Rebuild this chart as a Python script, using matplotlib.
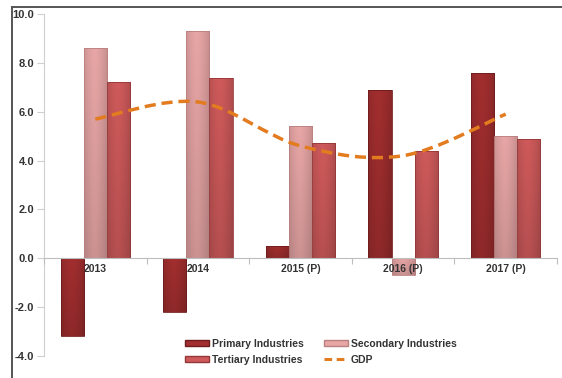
import numpy as np
import matplotlib
matplotlib.use("Agg")
import matplotlib.pyplot as plt
from matplotlib.colors import to_rgb
from matplotlib.path import Path
from matplotlib.patches import PathPatch, Patch
from matplotlib.lines import Line2D

plt.rcParams['font.family'] = ['Liberation Sans', 'DejaVu Sans']

years = ['2013', '2014', '2015 (P)', '2016 (P)', '2017 (P)']
primary = [-3.2, -2.2, 0.5, 6.9, 7.6]
secondary = [8.6, 9.3, 5.4, -0.7, 5.0]
tertiary = [7.2, 7.4, 4.7, 4.4, 4.9]
gdp = [5.7, 6.4, 4.6, 4.2, 5.9]

c_pri = '#a22e2f'
c_sec = '#e8a6a6'
c_ter = '#cf5a5b'
c_gdp = '#e37b1f'
txt = '#333333'

fig = plt.figure(figsize=(5.62, 3.78), dpi=100)
ax = fig.add_axes([44/562, 1-356/378, 513/562, 342/378])


def shade(bars, color):
    # cylinder-ish shading: a little darker at the sides and towards the bottom
    base = np.array(to_rgb(color))
    u = np.linspace(0, 1, 40)
    side = 1 - 0.14 * np.abs(u - 0.45) ** 1.5 * 2.6
    for b in bars:
        x0, y0 = b.get_x(), b.get_y()
        bw, bh = b.get_width(), b.get_height()
        v = np.linspace(1, 0, 60)[:, None]
        f = side[None, :] * (0.88 + 0.12 * v)
        img = np.clip(base[None, None, :] * f[:, :, None], 0, 1)
        lo, hi = min(y0, y0 + bh), max(y0, y0 + bh)
        im = ax.imshow(img, extent=(x0, x0 + bw, lo, hi), aspect='auto',
                       origin='upper', zorder=2, interpolation='bilinear')
        im.set_clip_path(b)
        b.set_facecolor('none')


x = np.arange(len(years))
w = 0.225
b1 = ax.bar(x - w, primary, w, color=c_pri, edgecolor='#6e1c1c', linewidth=0.6, zorder=2.1)
b2 = ax.bar(x, secondary, w, color=c_sec, edgecolor='#b98080', linewidth=0.6, zorder=2.1)
b3 = ax.bar(x + w, tertiary, w, color=c_ter, edgecolor='#943738', linewidth=0.6, zorder=2.1)
shade(b1, c_pri)
shade(b2, c_sec)
shade(b3, c_ter)

# smoothed GDP line: catmull-rom through the points as cubic beziers
pts = np.column_stack([x, gdp]).astype(float)
verts = [pts[0]]
codes = [Path.MOVETO]
for i in range(len(pts) - 1):
    p0 = pts[max(i - 1, 0)]
    p1 = pts[i]
    p2 = pts[i + 1]
    p3 = pts[min(i + 2, len(pts) - 1)]
    verts += [p1 + (p2 - p0) / 6, p2 - (p3 - p1) / 6, p2]
    codes += [Path.CURVE4] * 3
ax.add_patch(PathPatch(Path(verts, codes), fill=False, edgecolor=c_gdp,
                       linewidth=2.5, linestyle=(0, (3.2, 1.7)), zorder=4,
                       capstyle='butt'))

ax.set_xlim(-0.5, 4.5)
ax.set_ylim(-4, 10)
ax.set_yticks(np.arange(-4, 10.1, 2))
ax.set_yticklabels([f'{v:.1f}' for v in np.arange(-4, 10.1, 2)])
ax.set_axisbelow(False)

# category axis sits on zero
ax.spines['bottom'].set_position(('data', 0))
ax.spines['bottom'].set_color('#bdbdbd')
ax.spines['left'].set_color('#cfcfcf')
ax.spines['top'].set_visible(False)
ax.spines['right'].set_visible(False)
ax.set_xticks(np.arange(-0.5, 4.6, 1))
ax.set_xticklabels([])
ax.set_xticks(x, minor=True)
ax.set_xticklabels(years, minor=True)
ax.tick_params(axis='x', which='major', length=4, color='#bdbdbd', direction='out')
ax.tick_params(axis='x', which='minor', length=0, pad=4, labelsize=7.5, labelcolor=txt)
ax.tick_params(axis='y', length=5, color='#cfcfcf', labelsize=8, labelcolor=txt, pad=2)
for lab in ax.get_xticklabels(minor=True) + ax.get_yticklabels():
    lab.set_fontweight('bold')
ax.xaxis.set_zorder(5)

handles = [Patch(facecolor=c_pri, edgecolor='#6e1c1c'),
           Patch(facecolor=c_ter, edgecolor='#943738'),
           Patch(facecolor=c_sec, edgecolor='#b98080'),
           Line2D([], [], color=c_gdp, linewidth=2.2, linestyle=(0, (2.5, 1.5)))]
labels = ['Primary Industries', 'Tertiary Industries', 'Secondary Industries', 'GDP']
leg = fig.legend(handles, labels, ncol=2, loc='upper left',
                 bbox_to_anchor=(185/562, 1-339/378), frameon=False,
                 prop={'size': 7.5, 'weight': 'bold'}, handlelength=2.3,
                 handleheight=0.5, handletextpad=0.3, columnspacing=1.9,
                 labelspacing=0.55, borderpad=0, borderaxespad=0)
for t in leg.get_texts():
    t.set_color(txt)

# outer frame, left and top edges
fig.add_artist(Line2D([12/562, 12/562], [0, 1-7/378], color='#555555', linewidth=1.4))
fig.add_artist(Line2D([12/562, 1], [1-7/378, 1-7/378], color='#555555', linewidth=1.4))

fig.savefig('out.png', dpi=100)
